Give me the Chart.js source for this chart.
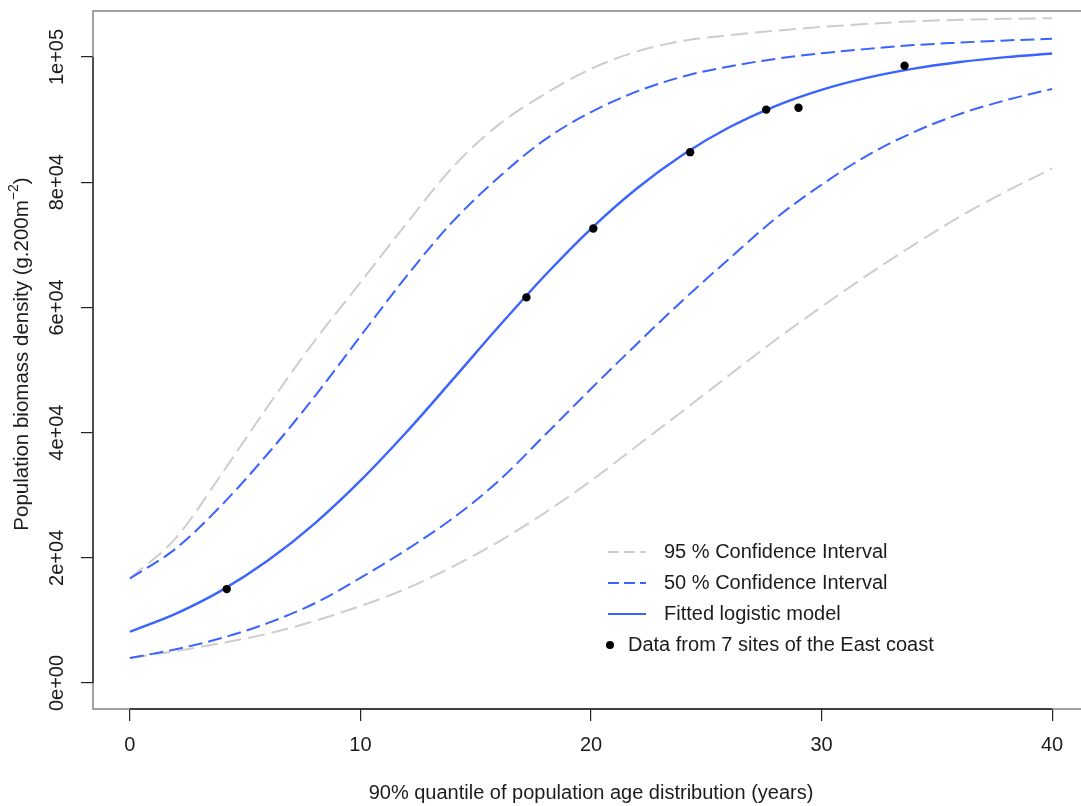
<!DOCTYPE html>
<html>
<head>
<meta charset="utf-8">
<script src="https://cdn.jsdelivr.net/npm/chart.js@4.4.1/dist/chart.umd.min.js"></script>
<style>
  html, body { margin: 0; padding: 0; background: #ffffff; overflow: hidden; }
  #wrap { width: 1100px; height: 806px; position: relative; }
  canvas { display: block; }
</style>
</head>
<body>
<div id="wrap"><canvas id="c" width="1100" height="806"></canvas></div>
<script>
// ---- data ----
const xGrid = [0, 2, 4, 6, 8, 10, 12, 14, 16, 18, 20, 22, 24, 26, 28, 30, 32, 34, 36, 38, 40];
const fittedModel = [8190, 11090, 14840, 19600, 25430, 32320, 40090, 48460, 56940, 65100, 72560, 79030, 84430, 88770, 92170, 94760, 96710, 98150, 99210, 99990, 100550];
const ci95Upper = [16700, 23200, 33500, 44300, 54600, 64000, 73400, 82400, 89200, 94100, 98100, 100900, 102600, 103500, 104200, 104800, 105300, 105700, 105950, 106100, 106200];
const ci50Upper = [16700, 21500, 28500, 36700, 45700, 55400, 65000, 73700, 80800, 86800, 91200, 94500, 96900, 98500, 99700, 100600, 101300, 101900, 102300, 102650, 102900];
const ci50Lower = [4000, 5400, 7200, 9600, 12700, 16800, 21300, 26300, 32300, 39600, 47000, 54200, 61200, 67800, 74200, 79600, 84300, 88000, 90900, 93100, 94900];
const ci95Lower = [4000, 5100, 6400, 7900, 9900, 12300, 15100, 18600, 22600, 27200, 32300, 37900, 43500, 49200, 54800, 60100, 65200, 70000, 74500, 78500, 82200];
const siteX = [4.2, 17.2, 20.1, 24.3, 27.6, 29.0, 33.6];
const siteY = [15000, 61600, 72600, 84800, 91600, 91900, 98600];

const xTickValues = [0, 10, 20, 30, 40];
const xTickLabels = ['0', '10', '20', '30', '40'];
const yTickValues = [0, 20000, 40000, 60000, 80000, 100000];
const yTickLabels = ['0e+00', '2e+04', '4e+04', '6e+04', '8e+04', '1e+05'];

const legendLabels = ['95 % Confidence Interval', '50 % Confidence Interval', 'Fitted logistic model', 'Data from 7 sites of the East coast'];
const xTitle = '90% quantile of population age distribution (years)';
const yTitleMain = 'Population biomass density (g.200m';
const yTitleSup = '\u22122';
const yTitleEnd = ')';

// ---- styles ----
const FONT = '"Liberation Sans", Arial, Helvetica, sans-serif';
const BLUE = '#3a63ff';
const GRAY = '#cdcdcd';
const TXT = '#1c1c1c';

function pts(xs, ys) { return xs.map((x, i) => ({ x: x, y: ys[i] })); }

function curve(label, ys, color, width, dash, order) {
  return {
    label: label, data: pts(xGrid, ys), showLine: true,
    borderColor: color, backgroundColor: color, borderWidth: width,
    borderDash: dash, pointRadius: 0, pointHoverRadius: 0,
    cubicInterpolationMode: 'monotone', fill: false, order: order
  };
}

const decor = {
  id: 'decor',
  afterDraw(chart) {
    const ctx = chart.ctx;
    const a = chart.chartArea;
    const xs = chart.scales.x, ys = chart.scales.y;
    ctx.save();
    // plot box
    ctx.strokeStyle = '#6e6e6e';
    ctx.lineWidth = 1.3;
    ctx.strokeRect(a.left, a.top, a.right - a.left, a.bottom - a.top);
    // axis lines spanning the ticks
    ctx.strokeStyle = '#222';
    ctx.lineWidth = 1.3;
    ctx.beginPath();
    ctx.moveTo(xs.getPixelForValue(xTickValues[0]), a.bottom);
    ctx.lineTo(xs.getPixelForValue(xTickValues[xTickValues.length - 1]), a.bottom);
    ctx.moveTo(a.left, ys.getPixelForValue(yTickValues[0]));
    ctx.lineTo(a.left, ys.getPixelForValue(yTickValues[yTickValues.length - 1]));
    ctx.stroke();

    ctx.fillStyle = TXT;
    // y tick labels (rotated)
    ctx.font = '20px ' + FONT;
    ctx.textAlign = 'center';
    ctx.textBaseline = 'middle';
    yTickValues.forEach((v, i) => {
      ctx.save();
      ctx.translate(57, ys.getPixelForValue(v));
      ctx.rotate(-Math.PI / 2);
      ctx.fillText(yTickLabels[i], 0, 0);
      ctx.restore();
    });
    // x title
    ctx.fillText(xTitle, (a.left + a.right) / 2, 793);
    // y title with superscript
    ctx.save();
    ctx.translate(22, (a.top + a.bottom) / 2 - 6);
    ctx.rotate(-Math.PI / 2);
    ctx.font = '20.5px ' + FONT;
    const w1 = ctx.measureText(yTitleMain).width;
    const w3 = ctx.measureText(yTitleEnd).width;
    ctx.font = '14px ' + FONT;
    const w2 = ctx.measureText(yTitleSup).width;
    let x0 = -(w1 + w2 + w3) / 2;
    ctx.textAlign = 'left';
    ctx.font = '20.5px ' + FONT;
    ctx.fillText(yTitleMain, x0, 0);
    ctx.font = '14px ' + FONT;
    ctx.fillText(yTitleSup, x0 + w1, -8);
    ctx.font = '20.5px ' + FONT;
    ctx.fillText(yTitleEnd, x0 + w1 + w2, 0);
    ctx.restore();

    // legend
    const rows = [552, 583, 614, 645];
    ctx.textAlign = 'left';
    ctx.textBaseline = 'middle';
    ctx.font = '20px ' + FONT;
    ctx.lineWidth = 2; ctx.strokeStyle = GRAY; ctx.setLineDash([11, 5]);
    ctx.beginPath(); ctx.moveTo(608, rows[0]); ctx.lineTo(646, rows[0]); ctx.stroke();
    ctx.strokeStyle = BLUE; ctx.setLineDash([11, 5]);
    ctx.beginPath(); ctx.moveTo(608, rows[1]); ctx.lineTo(646, rows[1]); ctx.stroke();
    ctx.setLineDash([]); ctx.lineWidth = 2.2;
    ctx.beginPath(); ctx.moveTo(608, rows[2]); ctx.lineTo(646, rows[2]); ctx.stroke();
    ctx.fillStyle = '#000';
    ctx.beginPath(); ctx.arc(610, rows[3], 4, 0, Math.PI * 2); ctx.fill();
    ctx.fillStyle = TXT;
    ctx.fillText(legendLabels[0], 664, rows[0]);
    ctx.fillText(legendLabels[1], 664, rows[1]);
    ctx.fillText(legendLabels[2], 664, rows[2]);
    ctx.fillText(legendLabels[3], 628, rows[3]);
    ctx.restore();
  }
};

new Chart(document.getElementById('c'), {
  type: 'scatter',
  data: {
    datasets: [
      {
        label: legendLabels[3], data: pts(siteX, siteY), showLine: false,
        pointRadius: 4.2, pointHoverRadius: 4.2, pointBackgroundColor: '#000',
        pointBorderColor: '#000', pointBorderWidth: 0, order: 0
      },
      curve(legendLabels[2], fittedModel, BLUE, 2.4, [], 1),
      curve(legendLabels[1] + ' upper', ci50Upper, BLUE, 2, [14, 6], 2),
      curve(legendLabels[1] + ' lower', ci50Lower, BLUE, 2, [14, 6], 2),
      curve(legendLabels[0] + ' upper', ci95Upper, GRAY, 2, [17, 7], 3),
      curve(legendLabels[0] + ' lower', ci95Lower, GRAY, 2, [17, 7], 3)
    ]
  },
  options: {
    responsive: false,
    animation: false,
    events: [],
    layout: { padding: { left: 0, top: 11, right: 11, bottom: 0 } },
    plugins: { legend: { display: false }, tooltip: { enabled: false } },
    scales: {
      x: {
        type: 'linear', min: -1.6, max: 41.6,
        border: { display: false },
        grid: { display: true, drawOnChartArea: false, drawTicks: true, tickLength: 12, color: '#222', lineWidth: 1.2 },
        ticks: {
          padding: 12, color: TXT,
          font: { family: FONT, size: 20 }, maxRotation: 0, autoSkip: false,
          callback: (v) => { const i = xTickValues.indexOf(v); return i >= 0 ? xTickLabels[i] : ''; }
        },
        afterBuildTicks: (s) => { s.ticks = xTickValues.map(v => ({ value: v })); },
        afterFit: (s) => { s.height = 97; }
      },
      y: {
        type: 'linear', min: -4150, max: 107350,
        border: { display: false },
        grid: { display: true, drawOnChartArea: false, drawTicks: true, tickLength: 12, color: '#222', lineWidth: 1.2 },
        ticks: { display: false },
        afterBuildTicks: (s) => { s.ticks = yTickValues.map(v => ({ value: v })); },
        afterFit: (s) => { s.width = 93; }
      }
    }
  },
  plugins: [decor]
});
</script>
</body>
</html>
